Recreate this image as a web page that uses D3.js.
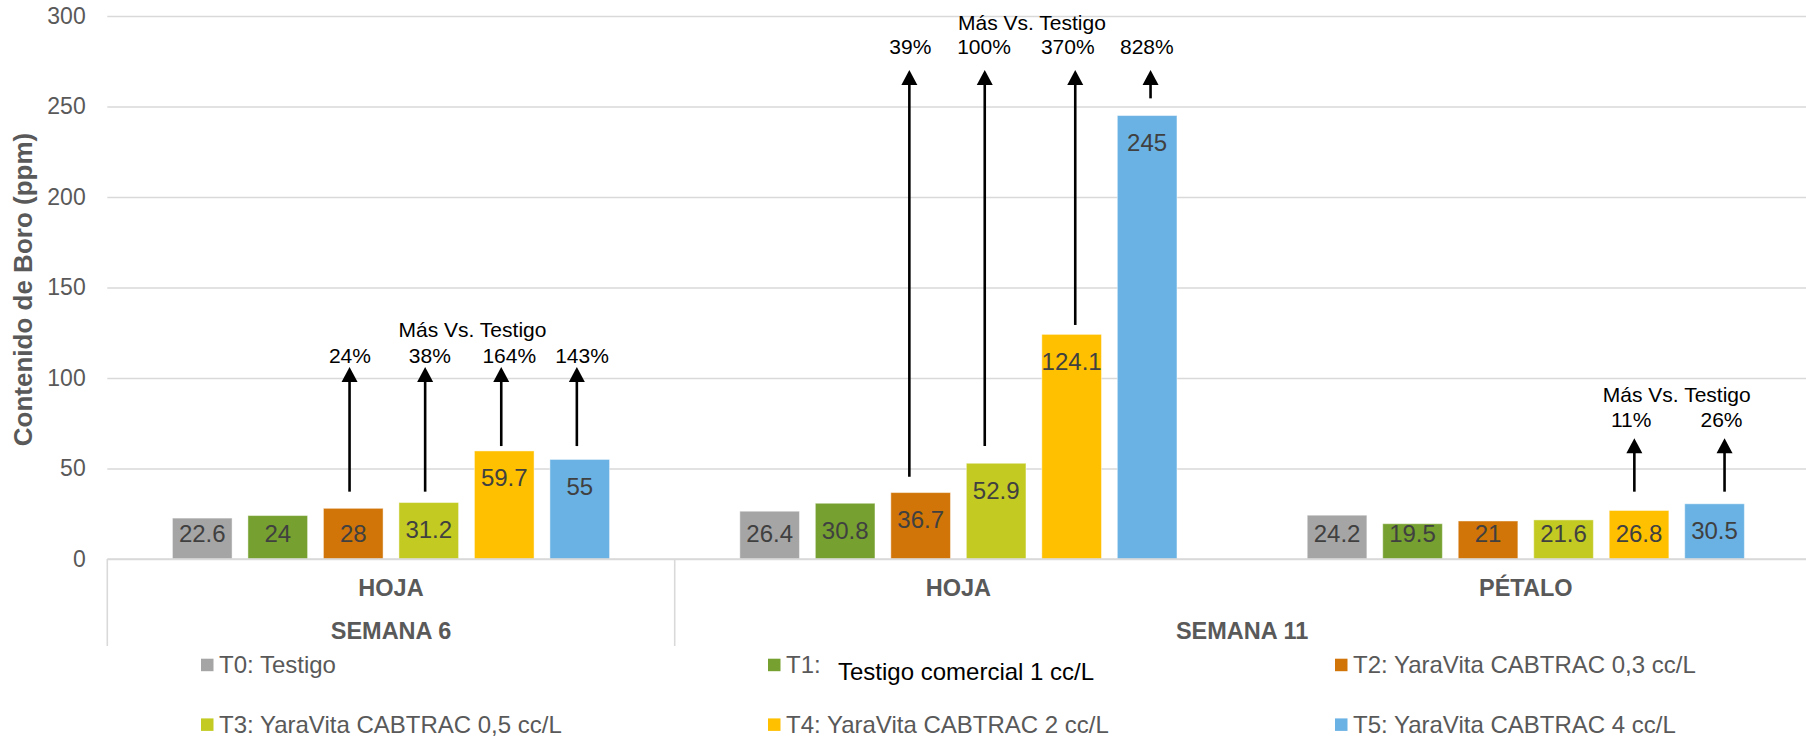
<!DOCTYPE html>
<html>
<head>
<meta charset="utf-8">
<script src="https://cdn.jsdelivr.net/npm/d3@7/dist/d3.min.js"></script>
<style>
  html, body { margin: 0; padding: 0; background: #fff; }
  svg { display: block; font-family: "Liberation Sans", Arial, sans-serif; }
</style>
</head>
<body>
<svg id="chart" width="1806" height="741"></svg>
<script>
// ---------------- DATA ----------------
const parts = ["HOJA", "HOJA", "PÉTALO"];
const weeks = ["SEMANA 6", "SEMANA 11"];
const weekSpans = [1, 2];            // number of categories under each week
const seriesNames = [
  "T0: Testigo",
  "T1: Testigo comercial 1 cc/L",
  "T2: YaraVita CABTRAC 0,3 cc/L",
  "T3: YaraVita CABTRAC 0,5 cc/L",
  "T4: YaraVita CABTRAC 2 cc/L",
  "T5: YaraVita CABTRAC 4 cc/L"
];
const seriesColors = ["#a5a5a5", "#76a130", "#d17508", "#c3cb23", "#ffc000", "#6ab2e4"];
const T0 = [22.6, 26.4, 24.2];
const T1 = [24, 30.8, 19.5];
const T2 = [28, 36.7, 21];
const T3 = [31.2, 52.9, 21.6];
const T4 = [59.7, 124.1, 26.8];
const T5 = [55, 245, 30.5];
const seriesValues = [T0, T1, T2, T3, T4, T5];
const yTicks = [0, 50, 100, 150, 200, 250, 300];

// annotation content ("Más Vs. Testigo")
const annotTitle = "Más Vs. Testigo";
const annotSeries = [[2, 3, 4, 5], [2, 3, 4, 5], [4, 5]];
const annotPct = [["24%", "38%", "164%", "143%"], ["39%", "100%", "370%", "828%"], ["11%", "26%"]];
// arrow start / tip, and text baselines, in ppm
const arrowFrom = [[37.2, 37.2, 62.4, 62.4], [45.5, 62.4, 129.3, 254.5], [37.2, 37.2]];
const arrowTo = [106.1, 270.2, 66.7];
const pctAt = [108.1, 279, 73.1];
const titleAt = [122.5, 292.5, 86.9];

// ---------------- LAYOUT ----------------
const W = 1806, H = 741;
const plotL = 107.3, plotR = 1809.5, plotT = 16, plotB = 559;
const grey = "#595959";
const arrowNudge = [[-3.7, -3.6, -3, -2.9], [-11.3, -11.4, 3.6, 3.4], [-4.7, 10]];
const pctNudge = [[-3.3, 1.1, 5, 2.3], [-10.3, -12.1, -3.9, -0.3], [-7.8, 7]];
const titleNudge = [6, -2, 0];

const svg = d3.select("#chart");

const x0 = d3.scaleBand().domain(d3.range(parts.length)).range([plotL, plotR]).padding(0);
const x1 = d3.scaleBand().domain(d3.range(seriesNames.length))
  .range([0, x0.bandwidth()]).paddingInner(0.21).paddingOuter(0.8627);
const y = d3.scaleLinear().domain([0, 300]).range([plotB, plotT]);

// grid + y tick labels
const yAxis = d3.axisLeft(y).tickValues(yTicks).tickSize(-(W - plotL)).tickPadding(21.6);
const gy = svg.append("g").attr("transform", `translate(${plotL},0)`).call(yAxis);
gy.select(".domain").remove();
gy.selectAll(".tick line").attr("stroke", "#d9d9d9").attr("stroke-width", 1.6);
gy.selectAll(".tick text").attr("fill", grey).attr("font-size", 23)
  .attr("font-family", "'Liberation Sans', Arial, sans-serif");

// y title
svg.append("text")
  .attr("transform", `translate(32,289.5) rotate(-90)`)
  .attr("text-anchor", "middle")
  .attr("font-size", 26).attr("font-weight", "bold").attr("fill", grey)
  .text("Contenido de Boro (ppm)");

// bars
const gBars = svg.append("g");
parts.forEach((p, ci) => {
  const g = gBars.append("g").attr("transform", `translate(${x0(ci)},0)`);
  seriesValues.forEach((vals, si) => {
    const v = vals[ci];
    g.append("rect")
      .attr("x", x1(si)).attr("width", x1.bandwidth())
      .attr("y", y(v)).attr("height", y(0) - y(v))
      .attr("fill", seriesColors[si])
      .attr("stroke", "rgba(255,255,255,0.45)").attr("stroke-width", 1);
    const cy = Math.min(y(v) + 27, y(0) - 25.5);
    g.append("text")
      .attr("x", x1(si) + x1.bandwidth() / 2).attr("y", cy).attr("dy", "0.35em")
      .attr("text-anchor", "middle").attr("font-size", 24).attr("fill", "#404040")
      .text(String(v));
  });
});

// category axis (two levels)
svg.append("line").attr("x1", plotL).attr("x2", W).attr("y1", y(0)).attr("y2", y(0))
  .attr("stroke", "#d9d9d9").attr("stroke-width", 1.6);
parts.forEach((p, ci) => {
  svg.append("text").attr("x", x0(ci) + x0.bandwidth() / 2).attr("y", 596)
    .attr("text-anchor", "middle").attr("font-size", 23.5).attr("font-weight", "bold")
    .attr("fill", grey).text(p);
});
let start = 0;
weeks.forEach((wk, wi) => {
  const xs = x0(start);
  const xe = x0(start + weekSpans[wi] - 1) + x0.bandwidth();
  svg.append("line").attr("x1", xs).attr("x2", xs).attr("y1", y(0)).attr("y2", 646)
    .attr("stroke", "#d9d9d9").attr("stroke-width", 1.6);
  svg.append("text").attr("x", (xs + xe) / 2).attr("y", 639)
    .attr("text-anchor", "middle").attr("font-size", 23.5).attr("font-weight", "bold")
    .attr("fill", grey).text(wk);
  start += weekSpans[wi];
});

// annotations
const gAnn = svg.append("g");
annotSeries.forEach((list, ci) => {
  const bx = si => x0(ci) + x1(si) + x1.bandwidth() / 2;
  list.forEach((si, k) => {
    const ax = bx(si) + arrowNudge[ci][k];
    const yTip = y(arrowTo[ci]);
    gAnn.append("line").attr("x1", ax).attr("x2", ax)
      .attr("y1", y(arrowFrom[ci][k])).attr("y2", yTip + 12)
      .attr("stroke", "#000").attr("stroke-width", 2.6);
    gAnn.append("path")
      .attr("d", `M${ax},${yTip} L${ax - 8},${yTip + 15} L${ax + 8},${yTip + 15} Z`)
      .attr("fill", "#000");
    gAnn.append("text").attr("x", bx(si) + pctNudge[ci][k]).attr("y", y(pctAt[ci]))
      .attr("text-anchor", "middle").attr("font-size", 21).attr("fill", "#000")
      .text(annotPct[ci][k]);
  });
  const n = list.length;
  const mid = (bx(list[Math.floor((n - 1) / 2)]) + bx(list[Math.ceil((n - 1) / 2) + (n % 2 === 0 ? 0 : 0)])) / 2;
  const tx = n % 2 === 0 ? (bx(list[n / 2 - 1]) + bx(list[n / 2])) / 2 : mid;
  gAnn.append("text").attr("x", tx + titleNudge[ci]).attr("y", y(titleAt[ci]))
    .attr("text-anchor", "middle").attr("font-size", 21).attr("fill", "#000")
    .text(annotTitle);
});

// legend
const legCols = [201, 768, 1335];
const legRows = [673, 732.7];
seriesNames.forEach((name, si) => {
  const lx = legCols[si % 3], ly = legRows[Math.floor(si / 3)];
  svg.append("rect").attr("x", lx).attr("y", ly - 14.3).attr("width", 12.5).attr("height", 12.5)
    .attr("fill", seriesColors[si]);
  if (si === 1) {
    const parts2 = name.split(": ");
    svg.append("text").attr("x", lx + 18).attr("y", ly).attr("font-size", 24)
      .attr("fill", grey).text(parts2[0] + ":");
    svg.append("text").attr("x", lx + 70).attr("y", ly + 7).attr("font-size", 24)
      .attr("fill", "#000").text(parts2[1]);
  } else {
    svg.append("text").attr("x", lx + 18).attr("y", ly).attr("font-size", 24)
      .attr("fill", grey).text(name);
  }
});
</script>
</body>
</html>
